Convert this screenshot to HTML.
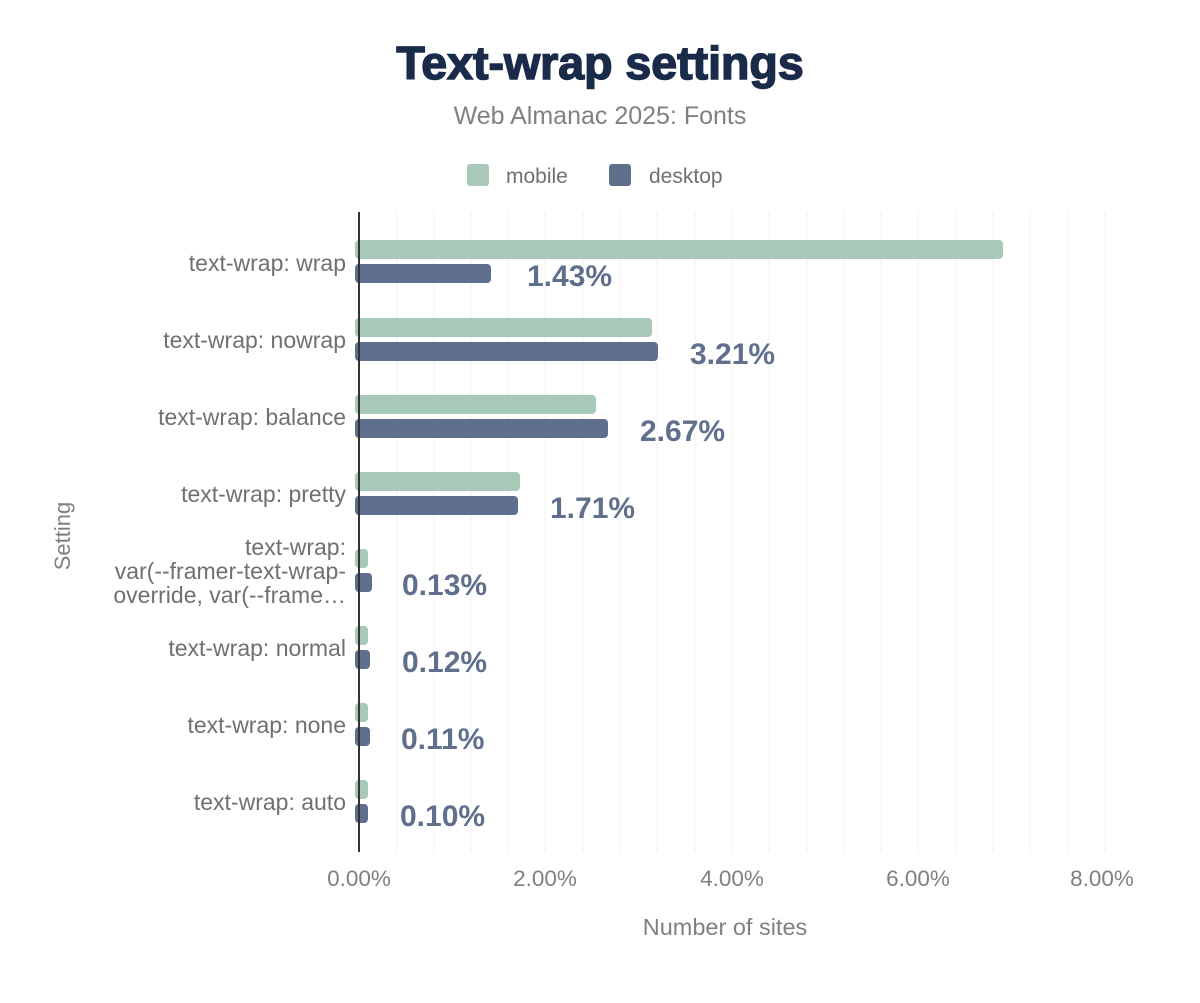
<!DOCTYPE html>
<html><head><meta charset="utf-8"><style>
body{margin:0;background:#fff;}
svg text{font-family:"Liberation Sans",Arial,sans-serif;}
</style></head><body>
<svg width="1200" height="998" viewBox="0 0 1200 998" xmlns="http://www.w3.org/2000/svg">
<rect width="1200" height="998" fill="#fff"/>
<text x="600" y="79" text-anchor="middle" font-size="46.5" font-weight="900" fill="#1a2b4a" stroke="#1a2b4a" stroke-width="1.5">Text-wrap settings</text>
<text x="600" y="124" text-anchor="middle" font-size="25" fill="#808080">Web Almanac 2025: Fonts</text>
<rect x="467" y="164" width="22" height="22" rx="3" fill="#a8c9b8"/>
<text x="506" y="183" font-size="21" fill="#707070">mobile</text>
<rect x="609" y="164" width="22" height="22" rx="3" fill="#5f6f8c"/>
<text x="649" y="183" font-size="21" fill="#707070">desktop</text>
<g stroke="#f2f2f2" stroke-width="1">
<line x1="397" y1="212" x2="397" y2="852"/><line x1="434" y1="212" x2="434" y2="852"/><line x1="471" y1="212" x2="471" y2="852"/><line x1="508" y1="212" x2="508" y2="852"/><line x1="545" y1="212" x2="545" y2="852"/><line x1="583" y1="212" x2="583" y2="852"/><line x1="620" y1="212" x2="620" y2="852"/><line x1="657" y1="212" x2="657" y2="852"/><line x1="695" y1="212" x2="695" y2="852"/><line x1="732" y1="212" x2="732" y2="852"/><line x1="769" y1="212" x2="769" y2="852"/><line x1="807" y1="212" x2="807" y2="852"/><line x1="844" y1="212" x2="844" y2="852"/><line x1="881" y1="212" x2="881" y2="852"/><line x1="918" y1="212" x2="918" y2="852"/><line x1="956" y1="212" x2="956" y2="852"/><line x1="993" y1="212" x2="993" y2="852"/><line x1="1030" y1="212" x2="1030" y2="852"/><line x1="1068" y1="212" x2="1068" y2="852"/><line x1="1105" y1="212" x2="1105" y2="852"/>
</g>
<g fill="#a8c9b8">
<rect x="355" y="240" width="648" height="19" rx="4"/>
<rect x="355" y="318" width="297" height="19" rx="4"/>
<rect x="355" y="395" width="241" height="19" rx="4"/>
<rect x="355" y="472" width="165" height="19" rx="4"/>
<rect x="355" y="549" width="13" height="19" rx="4"/>
<rect x="355" y="626" width="13" height="19" rx="4"/>
<rect x="355" y="703" width="13" height="19" rx="4"/>
<rect x="355" y="780" width="13" height="19" rx="4"/>
</g>
<g fill="#5f6f8c">
<rect x="355" y="264" width="136" height="19" rx="4"/>
<rect x="355" y="342" width="303" height="19" rx="4"/>
<rect x="355" y="419" width="253" height="19" rx="4"/>
<rect x="355" y="496" width="163" height="19" rx="4"/>
<rect x="355" y="573" width="17" height="19" rx="4"/>
<rect x="355" y="650" width="15" height="19" rx="4"/>
<rect x="355" y="727" width="15" height="19" rx="4"/>
<rect x="355" y="804" width="13" height="19" rx="4"/>
</g>
<line x1="359" y1="212" x2="359" y2="852" stroke="#333" stroke-width="2"/>
<g font-size="30" font-weight="bold" fill="#5f6f8c" stroke="#fff" stroke-width="4" paint-order="stroke">
<text x="527" y="286">1.43%</text>
<text x="690" y="364">3.21%</text>
<text x="640" y="441">2.67%</text>
<text x="550" y="518">1.71%</text>
<text x="402" y="595">0.13%</text>
<text x="402" y="672">0.12%</text>
<text x="401" y="749">0.11%</text>
<text x="400" y="826">0.10%</text>
</g>
<g font-size="23" fill="#707070" text-anchor="end">
<text x="346" y="271">text-wrap: wrap</text>
<text x="346" y="348">text-wrap: nowrap</text>
<text x="346" y="425">text-wrap: balance</text>
<text x="346" y="502">text-wrap: pretty</text>
<text x="346" y="555">text-wrap:</text>
<text x="346" y="579">var(--framer-text-wrap-</text>
<text x="346" y="603">override, var(--frame…</text>
<text x="346" y="656">text-wrap: normal</text>
<text x="346" y="733">text-wrap: none</text>
<text x="346" y="810">text-wrap: auto</text>
</g>
<g font-size="22.5" fill="#808080" text-anchor="middle">
<text x="359" y="886">0.00%</text>
<text x="545" y="886">2.00%</text>
<text x="732" y="886">4.00%</text>
<text x="918" y="886">6.00%</text>
<text x="1102" y="886">8.00%</text>
<text x="725" y="935" font-size="23.5">Number of sites</text>
</g>
<text transform="translate(70,536) rotate(-90)" font-size="22" fill="#808080" text-anchor="middle">Setting</text>
</svg>
</body></html>
